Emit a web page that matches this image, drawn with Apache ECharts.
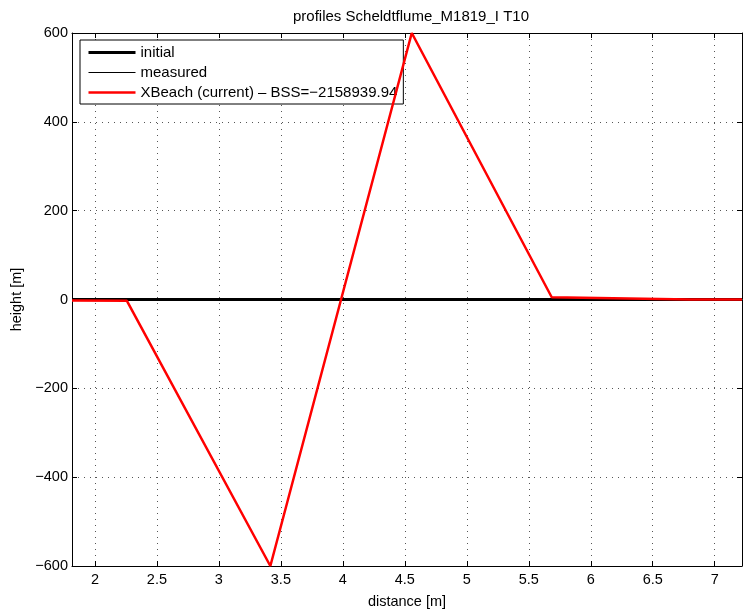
<!DOCTYPE html>
<html><head><meta charset="utf-8">
<script src="https://cdn.jsdelivr.net/npm/echarts@6/dist/echarts.min.js"></script>
<style>html,body{margin:0;padding:0;background:#fff}#c{width:743px;height:614px}</style>
</head><body><div id="c"></div>
<script>
const titleText = 'profiles Scheldtflume_M1819_I T10';
const xTicks = [2, 2.5, 3, 3.5, 4, 4.5, 5, 5.5, 6, 6.5, 7];
const yTicks = [-600, -400, -200, 0, 200, 400, 600];
const xMin = 1.815, xMax = 7.22;
const initialX = [1.815, 7.22];
const initialY = [0, 0];
const measuredX = [1.815, 7.22];
const measuredY = [0, 0];
const xbeachX = [1.815, 2.258, 3.415, 4.556, 5.685, 6.8, 7.22];
const xbeachY = [-2, -3, -600, 600, 5, 0, 0];
const seriesNames = ['initial', 'measured', 'XBeach (current) \u2013 BSS=\u22122158939.94'];
const lineWidths = [3, 1, 2.5];
const lineColors = ['#000', '#000', '#ff0000'];

const zip = (a, b) => a.map((v, i) => [v, b[i]]);
const fmt = v => (v < 0 ? '\u2212' + Math.abs(v) : String(v));
const font = 'Liberation Sans, Arial, sans-serif';
const chart = echarts.init(document.getElementById('c'), null, {renderer: 'canvas'});
const grid = {left: 72, right: 1, top: 33, bottom: 46, containLabel: false};
const split = {show: true, lineStyle: {color: '#555', type: [1, 5], width: 1}};
chart.setOption({
  animation: false,
  backgroundColor: '#fff',
  title: {text: titleText, left: 406, textAlign: 'center', top: 4,
    textStyle: {fontFamily: font, fontSize: 15, fontWeight: 'normal', color: '#000'}},
  grid: grid,
  legend: {
    orient: 'vertical', left: 80, top: 40, itemWidth: 47, itemHeight: 14, itemGap: 5,
    padding: [5, 6, 4, 7], backgroundColor: '#fff', borderColor: '#000', borderWidth: 1,
    borderRadius: 0, textStyle: {fontFamily: font, fontSize: 15, color: '#000', lineHeight: 15},
    itemStyle: {opacity: 0, borderWidth: 0},
    data: seriesNames.map((n, i) => ({name: n, lineStyle: {width: lineWidths[i], color: lineColors[i]}}))
  },
  xAxis: [{
    type: 'value', min: xMin, max: xMax, position: 'bottom',
    name: 'distance [m]', nameLocation: 'middle', nameGap: 28,
    nameTextStyle: {fontFamily: font, fontSize: 14.5, color: '#000'},
    axisLine: {show: true, onZero: false, lineStyle: {color: '#000', width: 1}},
    axisTick: {show: true, inside: true, length: 5, customValues: xTicks, lineStyle: {color: '#000'}},
    axisLabel: {customValues: xTicks, fontFamily: font, fontSize: 14.5, color: '#000', margin: 6, formatter: fmt},
    splitLine: split
  }, {
    type: 'value', min: xMin, max: xMax, position: 'top',
    axisLine: {show: true, onZero: false, lineStyle: {color: '#000'}},
    axisTick: {show: true, inside: true, length: 5, customValues: xTicks, lineStyle: {color: '#000'}},
    axisLabel: {show: false, customValues: xTicks}, splitLine: {show: false}
  }],
  yAxis: [{
    type: 'value', min: -600, max: 600, interval: 200, position: 'left',
    name: 'height [m]', nameLocation: 'middle', nameGap: 47, nameRotate: 90,
    nameTextStyle: {fontFamily: font, fontSize: 14.5, color: '#000'},
    axisLine: {show: true, onZero: false, lineStyle: {color: '#000'}},
    axisTick: {show: true, inside: true, length: 5, lineStyle: {color: '#000'}},
    axisLabel: {fontFamily: font, fontSize: 14.5, color: '#000', margin: 4, formatter: fmt},
    splitLine: split
  }, {
    type: 'value', min: -600, max: 600, interval: 200, position: 'right',
    axisLine: {show: true, onZero: false, lineStyle: {color: '#000'}},
    axisTick: {show: true, inside: true, length: 5, lineStyle: {color: '#000'}},
    axisLabel: {show: false}, splitLine: {show: false}
  }],
  series: [
    {name: seriesNames[0], type: 'line', data: zip(initialX, initialY), symbol: 'none', showSymbol: false,
     color: lineColors[0], lineStyle: {color: lineColors[0], width: lineWidths[0]}, z: 2},
    {name: seriesNames[1], type: 'line', data: zip(measuredX, measuredY), symbol: 'none', showSymbol: false,
     color: lineColors[1], lineStyle: {color: lineColors[1], width: lineWidths[1]}, z: 3},
    {name: seriesNames[2], type: 'line', data: zip(xbeachX, xbeachY), symbol: 'none', showSymbol: false,
     color: lineColors[2], lineStyle: {color: lineColors[2], width: lineWidths[2]}, z: 4}
  ]
});
</script></body></html>
